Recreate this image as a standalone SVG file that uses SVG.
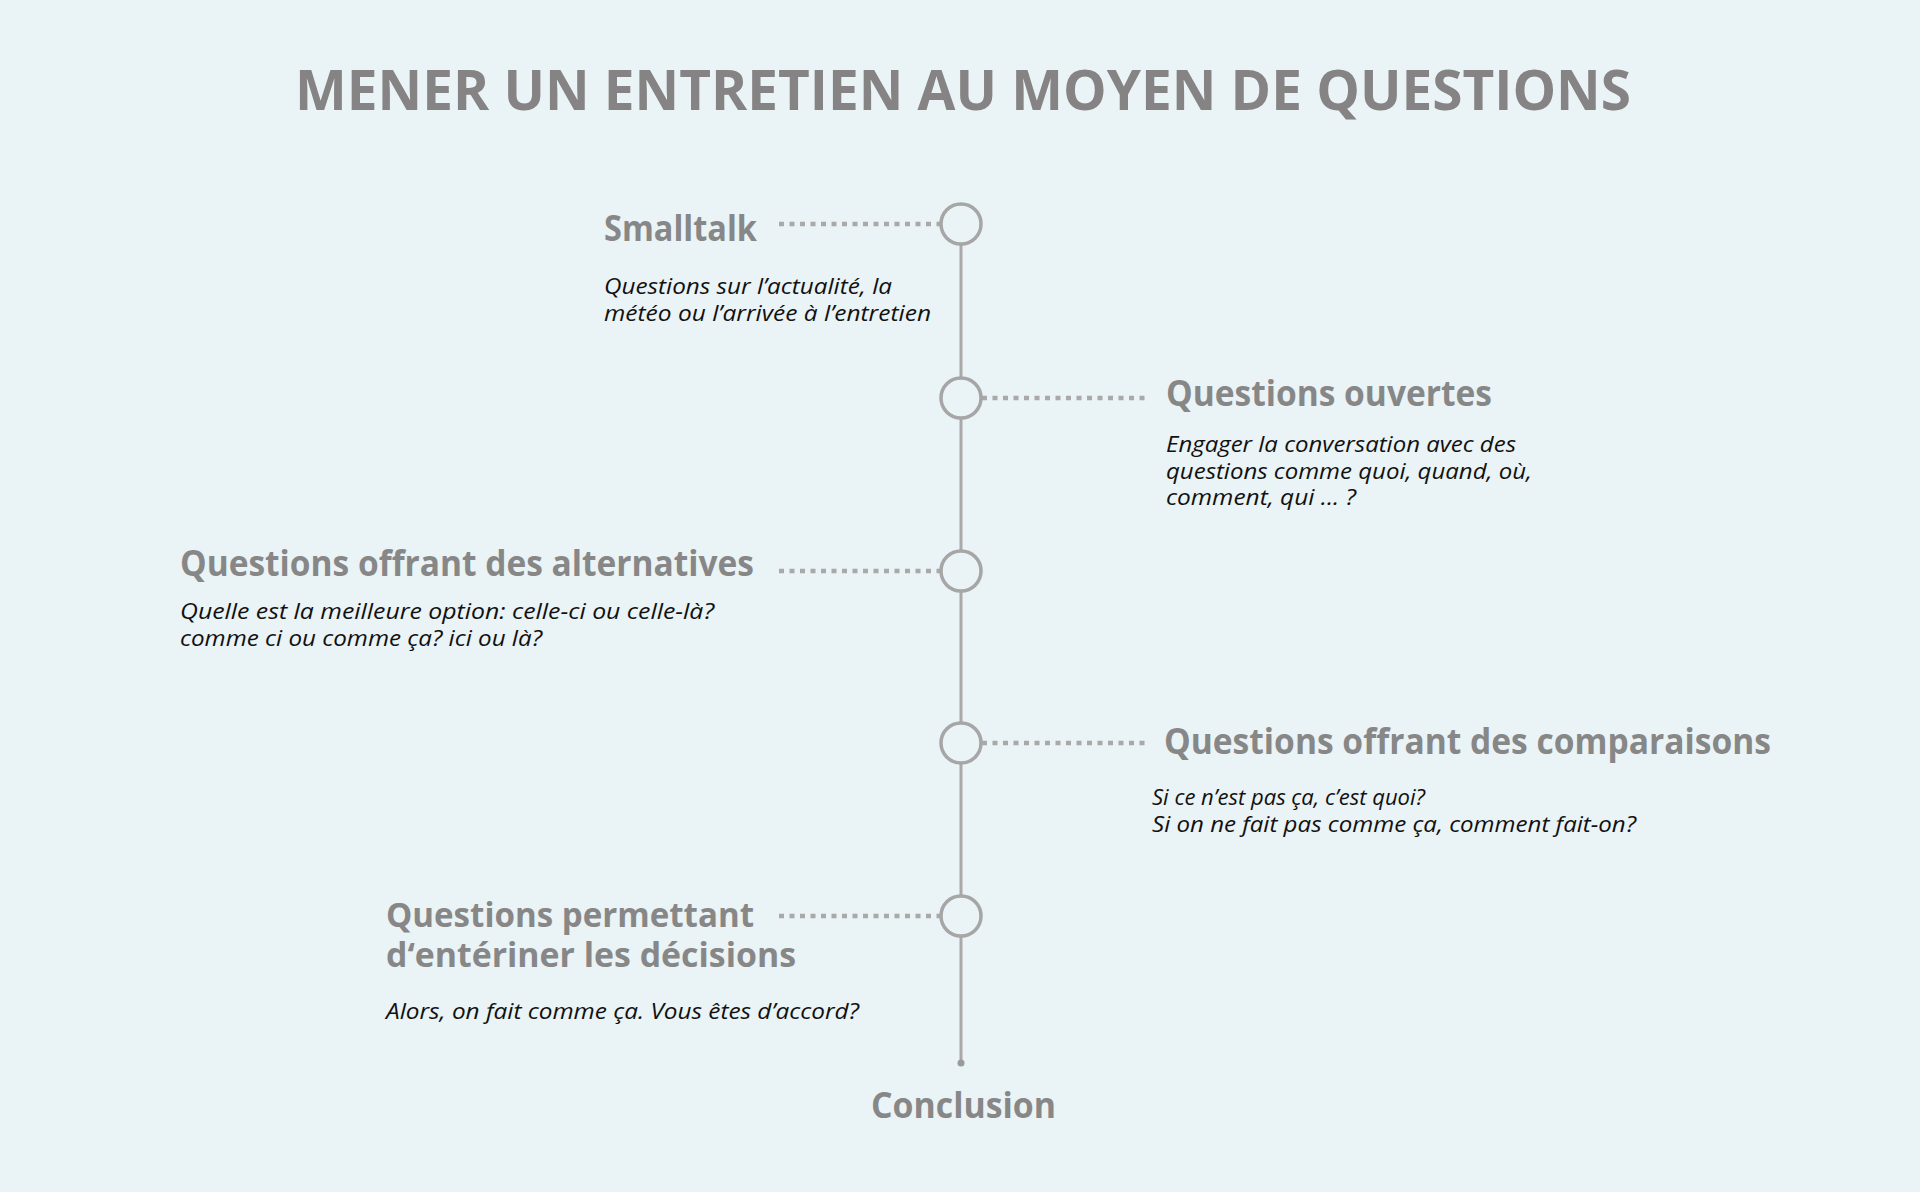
<svg xmlns="http://www.w3.org/2000/svg" width="1920" height="1192" viewBox="0 0 1920 1192">
<style>
.title{font-family:"Open Sans","Noto Sans",sans-serif;font-weight:700;font-size:56px;fill:#858383}
.h{font-family:"Open Sans","Noto Sans",sans-serif;font-weight:700;font-size:35px;fill:#878787}
.h2{font-family:"Open Sans","Noto Sans",sans-serif;font-weight:700;font-size:34px;fill:#878787}
.d{font-family:"Open Sans","Noto Sans",sans-serif;font-style:italic;font-size:21px;fill:#111}
.dot{stroke:#a9a9a9;stroke-width:4.5;stroke-dasharray:5 5.5;fill:none}
.node{fill:#eaf3f5;stroke:#a6a6a6;stroke-width:3.5}
.spine{stroke:#a9a9a9;stroke-width:3;fill:none}
</style>
<rect width="1920" height="1192" fill="#eaf3f5"/>
<text class="title" x="295" y="110" textLength="1336" lengthAdjust="spacingAndGlyphs">MENER UN ENTRETIEN AU MOYEN DE QUESTIONS</text>
<g id="connectors">
<line class="spine" x1="961" y1="224" x2="961" y2="1063"/>
<circle cx="961" cy="1063" r="3.5" fill="#9a9a9a"/>
<line class="dot" x1="779" y1="224" x2="940" y2="224"/>
<line class="dot" x1="982" y1="398" x2="1146" y2="398"/>
<line class="dot" x1="779" y1="571" x2="940" y2="571"/>
<line class="dot" x1="982" y1="743" x2="1146" y2="743"/>
<line class="dot" x1="779" y1="916" x2="940" y2="916"/>
</g>
<g id="smalltalk">
<circle class="node" cx="961" cy="224" r="20"/>
<text class="h" x="604" y="241" textLength="153" lengthAdjust="spacingAndGlyphs">Smalltalk</text>
<text class="d" x="604" y="294" textLength="288" lengthAdjust="spacingAndGlyphs">Questions sur l’actualité, la</text>
<text class="d" x="604" y="321" textLength="327" lengthAdjust="spacingAndGlyphs">météo ou l’arrivée à l’entretien</text>
</g>
<g id="ouvertes">
<circle class="node" cx="961" cy="398" r="20"/>
<text class="h" x="1166" y="406" textLength="326" lengthAdjust="spacingAndGlyphs">Questions ouvertes</text>
<text class="d" x="1166" y="452" textLength="350" lengthAdjust="spacingAndGlyphs">Engager la conversation avec des</text>
<text class="d" x="1166" y="479" textLength="366" lengthAdjust="spacingAndGlyphs">questions comme quoi, quand, où,</text>
<text class="d" x="1166" y="505" textLength="190" lengthAdjust="spacingAndGlyphs">comment, qui ... ?</text>
</g>
<g id="alternatives">
<circle class="node" cx="961" cy="571" r="20"/>
<text class="h" x="180" y="576" textLength="574" lengthAdjust="spacingAndGlyphs">Questions offrant des alternatives</text>
<text class="d" x="180" y="619" textLength="534" lengthAdjust="spacingAndGlyphs">Quelle est la meilleure option: celle-ci ou celle-là?</text>
<text class="d" x="180" y="646" textLength="362" lengthAdjust="spacingAndGlyphs">comme ci ou comme ça? ici ou là?</text>
</g>
<g id="comparaisons">
<circle class="node" cx="961" cy="743" r="20"/>
<text class="h" x="1164" y="754" textLength="607" lengthAdjust="spacingAndGlyphs">Questions offrant des comparaisons</text>
<text class="d" x="1152" y="805" textLength="273" lengthAdjust="spacingAndGlyphs">Si ce n’est pas ça, c’est quoi?</text>
<text class="d" x="1152" y="832" textLength="484" lengthAdjust="spacingAndGlyphs">Si on ne fait pas comme ça, comment fait-on?</text>
</g>
<g id="decisions">
<circle class="node" cx="961" cy="916" r="20"/>
<text class="h2"><tspan x="386" y="927" textLength="368" lengthAdjust="spacingAndGlyphs">Questions permettant</tspan><tspan x="386" y="967" textLength="410" lengthAdjust="spacingAndGlyphs">d‘entériner les décisions</tspan></text>
<text class="d" x="386" y="1019" textLength="473" lengthAdjust="spacingAndGlyphs">Alors, on fait comme ça. Vous êtes d’accord?</text>
</g>
<g id="conclusion">
<text class="h" x="871" y="1118" textLength="185" lengthAdjust="spacingAndGlyphs">Conclusion</text>
</g>
</svg>
